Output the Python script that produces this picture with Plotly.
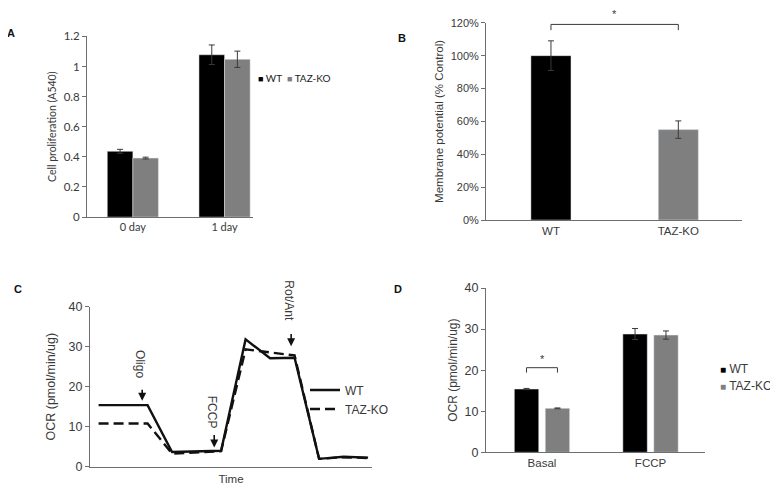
import plotly.graph_objects as go

# ---------------- data ----------------
# Panel A - cell proliferation
a_categories = ["0 day", "1 day"]
a_wt = [0.437, 1.078]
a_wt_err = [0.013, 0.065]
a_ko = [0.392, 1.048]
a_ko_err = [0.006, 0.054]
a_yticks = [0, 0.2, 0.4, 0.6, 0.8, 1.0, 1.2]
a_yticklabels = ["0", "0.2", "0.4", "0.6", "0.8", "1", "1.2"]

# Panel B - membrane potential
b_categories = ["WT", "TAZ-KO"]
b_values = [1.00, 0.55]
b_err = [0.09, 0.053]
b_yticks = [0, 0.2, 0.4, 0.6, 0.8, 1.0, 1.2]

# Panel C - OCR time course
c_time = list(range(1, 13))
c_wt = [15.4, 15.4, 15.4, 3.7, 3.8, 4.0, 31.8, 27.1, 27.2, 2.0, 2.5, 2.3]
c_ko = [10.8, 10.8, 10.8, 3.3, 3.6, 3.9, 29.3, 28.5, 27.8, 2.0, 2.4, 2.2]
c_injections = ["Oligo", "FCCP", "Rot/Ant"]
c_inj_time = [2.78, 5.72, 8.86]
c_yticks = [0, 10, 20, 30, 40]

# Panel D - OCR basal / FCCP
d_categories = ["Basal", "FCCP"]
d_wt = [15.4, 28.8]
d_wt_err = [0.15, 1.35]
d_ko = [10.7, 28.55]
d_ko_err = [0.1, 1.0]
d_yticks = [0, 10, 20, 30, 40]

series_names = ["WT", "TAZ-KO"]
series_colors = ["#000000", "#7f7f7f"]

# ---------------- styles ----------------
# the page body has an 8px margin, so the figure is drawn 8px in from the window corner
OFF = 8
W, H = 778 - OFF, 503 - OFF
ARIAL = "Liberation Sans, Arial, sans-serif"
CALIBRI = "Lato, Open Sans, sans-serif"
TXT = "#3a3a3a"
AX = "#6e6e6e"
ERR = dict(type="data", thickness=1, width=3, color="#3a3a3a")


def PX(x):
    return (x - OFF) / W


def PY(y):
    return 1 - (y - OFF) / H


def xdom(a, b):
    return [PX(a), PX(b)]


def ydom(top, bottom):
    return [PY(bottom), PY(top)]


fig = go.Figure()

# ---- Panel A ----
aw = 0.279
fig.add_trace(go.Bar(x=a_categories, y=a_wt, name=series_names[0], marker_color=series_colors[0],
                     offset=-aw, width=aw, xaxis="x", yaxis="y", showlegend=False,
                     error_y=dict(array=a_wt_err, **ERR)))
fig.add_trace(go.Bar(x=a_categories, y=a_ko, name=series_names[1], marker_color=series_colors[1],
                     offset=0, width=aw, xaxis="x", yaxis="y", showlegend=False,
                     error_y=dict(array=a_ko_err, **ERR)))

# ---- Panel B ----
bw = 0.315
fig.add_trace(go.Bar(x=b_categories, y=b_values, marker_color=series_colors,
                     offset=-bw / 2, width=bw, xaxis="x2", yaxis="y2", showlegend=False,
                     error_y=dict(array=b_err, **ERR)))

# ---- Panel C ----
fig.add_trace(go.Scatter(x=c_time, y=c_wt, name=series_names[0], mode="lines",
                         line=dict(color="#111111", width=2.4), xaxis="x3", yaxis="y3",
                         legend="legend"))
fig.add_trace(go.Scatter(x=c_time, y=c_ko, name=series_names[1], mode="lines",
                         line=dict(color="#111111", width=2.4, dash="10px,5px"), xaxis="x3", yaxis="y3",
                         legend="legend"))

# ---- Panel D ----
dw = 0.225
d_off = [-0.255, 0.03]
fig.add_trace(go.Bar(x=d_categories, y=d_wt, name=series_names[0], marker_color=series_colors[0],
                     offset=d_off[0], width=dw, xaxis="x4", yaxis="y4", showlegend=False,
                     error_y=dict(array=d_wt_err, **ERR)))
fig.add_trace(go.Bar(x=d_categories, y=d_ko, name=series_names[1], marker_color=series_colors[1],
                     offset=d_off[1], width=dw, xaxis="x4", yaxis="y4", showlegend=False,
                     error_y=dict(array=d_ko_err, **ERR)))


def yaxis_common(font, size):
    return dict(showline=True, linecolor=AX, linewidth=1, ticks="outside", ticklen=4,
                tickcolor=AX, showgrid=False, zeroline=False,
                tickfont=dict(family=font, size=size, color=TXT))


def xaxis_common(font, size):
    return dict(showline=True, linecolor=AX, linewidth=1, ticks="", showgrid=False,
                zeroline=False, tickfont=dict(family=font, size=size, color=TXT))


fig.update_layout(
    width=W, height=H, margin=dict(l=0, r=0, t=0, b=0),
    paper_bgcolor="white", plot_bgcolor="white",
    barmode="overlay",
    # A
    xaxis=dict(domain=xdom(87, 253), anchor="y", type="category", range=[-0.5, 1.31],
               **xaxis_common(CALIBRI, 11)),
    yaxis=dict(domain=ydom(30, 216), anchor="x", range=[0, 1.2], tickvals=a_yticks,
               ticktext=a_yticklabels,
               title=dict(text="Cell proliferation (A540)", font=dict(family=CALIBRI, size=10.5, color=TXT),
                          standoff=4),
               **yaxis_common(CALIBRI, 11.5)),
    # B
    xaxis2=dict(domain=xdom(486, 742), anchor="y2", type="category", range=[-0.51, 1.5],
                **xaxis_common(ARIAL, 11.5)),
    yaxis2=dict(domain=ydom(16, 219), anchor="x2", range=[0, 1.2], tickvals=b_yticks,
                tickformat=".0%",
                title=dict(text="Membrane potential (% Control)", font=dict(family=ARIAL, size=11.5, color=TXT),
                           standoff=4),
                **yaxis_common(ARIAL, 11)),
    # C
    xaxis3=dict(domain=xdom(90, 372), anchor="y3", range=[0.65, 12.16], showticklabels=False,
                title=dict(text="Time", font=dict(family=ARIAL, size=11.5, color=TXT), standoff=8),
                **xaxis_common(ARIAL, 12)),
    yaxis3=dict(domain=ydom(308, 473), anchor="x3", range=[0, 40], tickvals=c_yticks,
                title=dict(text="OCR (pmol/min/ug)", font=dict(family=ARIAL, size=12.5, color=TXT),
                           standoff=10),
                **yaxis_common(ARIAL, 12.5)),
    # D
    xaxis4=dict(domain=xdom(486, 705), anchor="y4", type="category", range=[-0.516, 1.502],
                **xaxis_common(ARIAL, 11.5)),
    yaxis4=dict(domain=ydom(289, 458), anchor="x4", range=[0, 40], tickvals=d_yticks,
                title=dict(text="OCR (pmol/min/ug)", font=dict(family=ARIAL, size=12, color=TXT),
                           standoff=4),
                **yaxis_common(ARIAL, 12.5)),
    legend=dict(x=PX(305), y=PY(379), xanchor="left", yanchor="top", bgcolor="rgba(0,0,0,0)",
                font=dict(family=ARIAL, size=12, color=TXT), itemwidth=30, tracegroupgap=0),
)

ann = []
# panel letters
for letter, x, y in [("A", 11, 27), ("B", 402, 32), ("C", 18, 290), ("D", 398, 290)]:
    ann.append(dict(text="<b>%s</b>" % letter, x=PX(x), y=PY(y), xref="paper", yref="paper",
                    showarrow=False, xanchor="center", yanchor="middle",
                    font=dict(family=ARIAL, size=11, color="#111111")))

# legend A (horizontal) and D (vertical) built from series names / colours
sq = '<span style="color:%s;font-size:9px">■</span> %s'
legA = "  ".join(sq % (c, n) for n, c in zip(series_names, series_colors))
ann.append(dict(text=legA, x=PX(256), y=PY(73), xref="paper", yref="paper", showarrow=False,
                xanchor="left", yanchor="middle", font=dict(family=CALIBRI, size=10, color="#222222")))
sqD = '<span style="color:%s;font-size:10px">■</span> %s'
for i, (n, c) in enumerate(zip(series_names, series_colors)):
    ann.append(dict(text=sqD % (c, n), x=PX(718), y=PY(372 + 18 * i),
                    xref="paper", yref="paper", showarrow=False, xanchor="left", yanchor="middle",
                    font=dict(family=ARIAL, size=12, color=TXT)))

# Panel B significance bracket
b_br_y, b_br_tick = 1.19, 0.035
fig.add_shape(type="path", xref="x2", yref="y2",
              path="M 0,%g L 0,%g L 1,%g L 1,%g" % (b_br_y - b_br_tick, b_br_y, b_br_y, b_br_y - b_br_tick),
              line=dict(color="#3a3a3a", width=1))
ann.append(dict(text="*", x=0.5, y=b_br_y, xref="x2", yref="y2", showarrow=False, yanchor="bottom",
                yshift=2, font=dict(family=ARIAL, size=11, color=TXT)))

# Panel D significance bracket (between bar centres of Basal)
d_c0 = d_off[0] + dw / 2
d_c1 = d_off[1] + dw / 2
d_br_y, d_br_tick = 20.6, 1.2
fig.add_shape(type="path", xref="x4", yref="y4",
              path="M %g,%g L %g,%g L %g,%g L %g,%g" % (d_c0, d_br_y - d_br_tick, d_c0, d_br_y, d_c1, d_br_y,
                                                       d_c1, d_br_y - d_br_tick),
              line=dict(color="#3a3a3a", width=1))
ann.append(dict(text="*", x=(d_c0 + d_c1) / 2, y=d_br_y, xref="x4", yref="y4", showarrow=False,
                yanchor="bottom", yshift=1, font=dict(family=ARIAL, size=11, color=TXT)))

# Panel C injection arrows and labels (heights as fraction of the y-axis domain)
arrow_head = [16.5 / 40, 4.8 / 40, 30.1 / 40]
arrow_tail = [19.6 / 40, 8.3 / 40, 33.5 / 40]
label_mid = [25.6 / 40, 13.7 / 40, 41.5 / 40]
for name, t, h, tl, lm in zip(c_injections, c_inj_time, arrow_head, arrow_tail, label_mid):
    ann.append(dict(text="", x=t, y=h, ax=t, ay=tl, xref="x3", yref="y3 domain", axref="x3",
                    ayref="y3 domain",
                    showarrow=True, arrowhead=2, arrowsize=1, arrowwidth=1.6, arrowcolor="#111111"))
    ann.append(dict(text=name, x=t, y=lm, xref="x3", yref="y3 domain", showarrow=False, textangle=90,
                    xanchor="center", yanchor="middle", xshift=-2,
                    font=dict(family=ARIAL, size=12, color=TXT)))

fig.update_layout(annotations=ann)
fig.write_html("out.html")
